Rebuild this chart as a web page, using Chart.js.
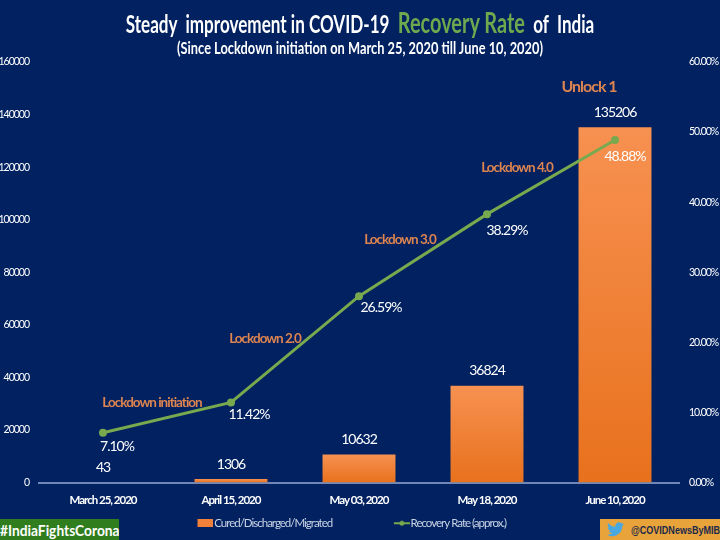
<!DOCTYPE html>
<html>
<head>
<meta charset="utf-8">
<script src="https://cdn.jsdelivr.net/npm/chart.js@4"></script>
<style>
  html, body { margin: 0; padding: 0; background: #012160; }
  #wrap { position: relative; width: 720px; height: 540px; overflow: hidden; font-family: Lato, sans-serif; }
  canvas { position: absolute; left: 0; top: 0; }
  .title { position: absolute; left: 0; width: 720px; text-align: center; color: #fff; white-space: pre; transform-origin: center top; }
  #title1 { top: 5px; font-size: 24px; font-weight: bold; left: 0; transform: scaleX(0.712); }
  #title1 span { color: #6ea84f; font-size: 28px; }
  #title2 { top: 37px; font-size: 17px; font-weight: bold; left: 0; transform: scaleX(0.755); }
  #tag { position: absolute; left: 0; top: 519px; width: 119px; height: 21px; background: #2f7d1c; color: #fff; font: bold 16px/21px Lato, sans-serif; white-space: nowrap; overflow: hidden; }
  #tag span { display: inline-block; transform: scaleX(0.86); transform-origin: left center; }
  #handle { position: absolute; left: 600px; top: 519px; width: 120px; height: 21px; background: #e8a33a; color: #1c2a4a; font: bold 11px/23px "Liberation Sans", sans-serif; white-space: nowrap; overflow: hidden; }
  #handle svg { position: absolute; left: 7px; top: 3px; }
  #handle span { position: absolute; left: 31px; top: 0; transform: scaleX(0.82); transform-origin: left center; }
</style>
</head>
<body>
<div id="wrap">
  <canvas id="chart" width="720" height="540"></canvas>
  <div class="title" id="title1">Steady  improvement in COVID-19  <span>Recovery Rate</span>  of  India</div>
  <div class="title" id="title2">(Since Lockdown initiation on March 25, 2020 till June 10, 2020)</div>
  <div id="tag"><span>#IndiaFightsCorona</span></div>
  <div id="handle">
    <svg width="17" height="15" viewBox="0 0 24 20"><path fill="#4aa8e0" d="M24 2.4c-.9.4-1.8.7-2.8.8 1-.6 1.8-1.6 2.2-2.7-1 .6-2 1-3.1 1.2A4.9 4.9 0 0 0 11.900 6.200C7.800 6 4.200 4 1.700.9c-1.300 2.200-.7 5.100 1.500 6.600-.8 0-1.600-.2-2.200-.6 0 2.400 1.700 4.400 3.900 4.900-.7.2-1.500.2-2.200.1.600 2 2.400 3.400 4.600 3.400A9.900 9.900 0 0 1 0 17.300 14 14 0 0 0 7.500 19.500c9.100 0 14.300-7.700 14-14.600 1-.7 1.800-1.600 2.500-2.500z"/></svg>
    <span>@COVIDNewsByMIB</span>
  </div>
</div>
<script>
'use strict';
const categories=['March 25, 2020','April 15, 2020','May 03, 2020','May 18, 2020','June 10, 2020'];
const curedValues=[43,1306,10632,36824,135206];
const recoveryRates=[7.10,11.42,26.59,38.29,48.88];
const phaseLabels=['Lockdown initiation','Lockdown 2.0','Lockdown 3.0','Lockdown 4.0','Unlock 1'];
const leftTicks=[0,20000,40000,60000,80000,100000,120000,140000,160000];
const rightTicks=[0,10,20,30,40,50,60];

const fontName='Lato, sans-serif';

function barGradient(context){
  const chart=context.chart;
  const area=chart.chartArea;
  if(!area || context.dataIndex===undefined) return '#f0802f';
  const top=chart.scales.y.getPixelForValue(curedValues[context.dataIndex]);
  if(!isFinite(top) || !isFinite(area.bottom)) return '#f0802f';
  const g=chart.ctx.createLinearGradient(0,top,0,area.bottom);
  g.addColorStop(0,'#f79151');
  g.addColorStop(1,'#e8711d');
  return g;
}

// small swatches for the legend, drawn on the right of a wider canvas so they sit close to the text
function swatch(draw){
  const c=document.createElement('canvas');
  c.width=26;
  c.height=8;
  draw(c.getContext('2d'));
  return c;
}
const barSwatch=swatch(ctx=>{
  ctx.fillStyle='#f0803a';
  ctx.fillRect(10,0,16,8);
});
const lineSwatch=swatch(ctx=>{
  ctx.fillStyle='#79a94f';
  ctx.fillRect(10,3,16,2);
  ctx.beginPath();
  ctx.arc(18,4,2.5,0,Math.PI*2);
  ctx.fill();
});

// value labels and phase names, placed relative to the marks
const labelPlugin={
  id:'labelPlugin',
  beforeUpdate(chart){
    chart.ctx.letterSpacing='-1px';
  },
  beforeDraw(chart){
    chart.ctx.letterSpacing='-1px';
  },
  afterDatasetsDraw(chart){
    const ctx=chart.ctx;
    const bars=chart.getDatasetMeta(0).data;
    const points=chart.getDatasetMeta(1).data;
    const rateOffsets=[[14,14],[18,12],[22,11],[20,16],[10,17]];
    const phaseOffsets=[[49,-30],[34,-64],[41,-57],[30,-47],[-26,-53]];
    ctx.save();
    ctx.textAlign='center';
    ctx.textBaseline='middle';
    ctx.fillStyle='#fff';
    ctx.font='14px '+fontName;
    bars.forEach((bar,i)=>{
      ctx.fillText(String(curedValues[i]),bar.x,bar.y-15);
    });
    points.forEach((pt,i)=>{
      ctx.fillStyle='#fff';
      ctx.font='14px '+fontName;
      ctx.fillText(recoveryRates[i].toFixed(2)+'%',pt.x+rateOffsets[i][0],pt.y+rateOffsets[i][1]);
      ctx.fillStyle='#dd8450';
      ctx.font=(i===4 ? 'bold 16px ' : 'bold 13.5px ')+fontName;
      ctx.fillText(phaseLabels[i],pt.x+phaseOffsets[i][0],pt.y+phaseOffsets[i][1]);
    });
    ctx.restore();
  }
};

Chart.defaults.animation=false;
new Chart(document.getElementById('chart').getContext('2d'),{
  type:'bar',
  data:{
    labels:categories,
    datasets:[
      {type:'bar',label:'Cured/Discharged/Migrated',data:curedValues,yAxisID:'y',backgroundColor:barGradient,barPercentage:0.57,categoryPercentage:1,order:2},
      {type:'line',label:'Recovery Rate (approx.)',data:recoveryRates,yAxisID:'y1',borderColor:'#79a94f',backgroundColor:'#79a94f',borderWidth:3,pointRadius:2.5,pointHoverRadius:2.5,tension:0,order:1}
    ]
  },
  plugins:[labelPlugin],
  options:{
    responsive:false,
    layout:{padding:{top:62,left:0,right:0,bottom:1}},
    plugins:{
      tooltip:{enabled:false},
      legend:{
        position:'bottom',
        labels:{
          color:'#c9d3e6',
          font:{family:fontName,size:11.5},
          usePointStyle:true,
          pointStyleWidth:16,
          boxHeight:8,
          padding:10,
          sort:(a,b)=>a.datasetIndex-b.datasetIndex,
          generateLabels(chart){
            const items=Chart.defaults.plugins.legend.labels.generateLabels(chart);
            items.forEach(item=>{
              item.pointStyle=item.datasetIndex===0 ? barSwatch : lineSwatch;
              item.text+='\u00A0'.repeat(item.datasetIndex===0 ? 24 : 11);
            });
            return items;
          }
        }
      }
    },
    scales:{
      x:{
        afterFit(axis){axis.height=25;},
        grid:{display:false,drawTicks:false},
        border:{color:'#6f88b8',width:2},
        ticks:{color:'#fff',font:{family:fontName,size:11.5,weight:'bold'},padding:11,maxRotation:0}
      },
      y:{
        position:'left',min:0,max:160000,
        afterBuildTicks(axis){axis.ticks=leftTicks.map(v=>({value:v}));},
        afterFit(axis){axis.width=39;},
        grid:{display:false,drawTicks:false},
        border:{display:false},
        ticks:{color:'#fff',font:{family:fontName,size:10.5},padding:10,callback:v=>String(v)}
      },
      y1:{
        position:'right',min:0,max:60,
        afterBuildTicks(axis){axis.ticks=rightTicks.map(v=>({value:v}));},
        afterFit(axis){axis.width=41;},
        grid:{display:false,drawTicks:false},
        border:{display:false},
        ticks:{color:'#fff',font:{family:fontName,size:10.5},padding:10,callback:v=>v.toFixed(2)+'%'}
      }
    }
  }
});
</script>
</body>
</html>
